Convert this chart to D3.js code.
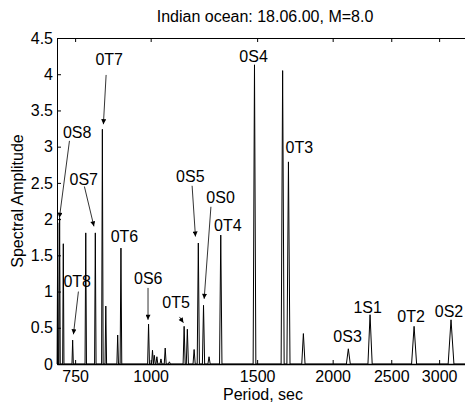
<!DOCTYPE html>
<html>
<head>
<meta charset="utf-8">
<script src="https://cdn.jsdelivr.net/npm/d3@7.9.0/dist/d3.min.js"></script>
<style>
  body { margin: 0; background: #fff; }
  svg { display: block; font-family: "Liberation Sans", Arial, sans-serif; }
</style>
</head>
<body>
<div id="chart"></div>
<script>
// peak periods (sec) and spectral amplitudes
const periods = [702, 707, 717, 743, 781, 810, 832, 843, 882, 893, 992, 1007, 1014, 1024, 1040, 1057, 1074,
  1136, 1150, 1180, 1199, 1223, 1249, 1306, 1485, 1653, 1690, 1789, 2123, 2306, 2727, 3139];
const amps = [1.95, 2.02, 1.66, 0.33, 1.81, 1.81, 3.24, 0.80, 0.40, 1.60, 0.55, 0.19, 0.12, 0.10, 0.07, 0.22, 0.03,
  0.52, 0.48, 0.20, 1.67, 0.81, 0.10, 1.78, 4.13, 4.05, 2.79, 0.42, 0.21, 0.68, 0.52, 0.61];

const xTicks = [750, 1000, 1500, 2000, 2500, 3000];
const yTicks = [0, 0.5, 1, 1.5, 2, 2.5, 3, 3.5, 4, 4.5];

// mode labels: text, label period, label amplitude (baseline)
const modeLabels = [
  ["0S8", 756, 3.12], ["0S7", 775, 2.47], ["0T7", 854, 4.13], ["0T6", 905, 1.68],
  ["0T8", 756, 1.06], ["0S6", 991, 1.10], ["0T5", 1102, 0.77], ["0S5", 1163, 2.51],
  ["0S0", 1305, 2.22], ["0T4", 1342, 1.84], ["0S4", 1480, 4.17], ["0T3", 1762, 2.91],
  ["0S3", 2117, 0.30], ["1S1", 2285, 0.70], ["0T2", 2696, 0.58], ["0S2", 3115, 0.65]
];
// arrows: from [period, amp] to [period, amp]
const arrows = [
  [734, 3.08, 706.5, 2.02], [777, 2.45, 805.7, 1.90], [844, 3.99, 835.3, 3.31],
  [759.5, 1.00, 745.2, 0.41], [990, 1.05, 990, 0.61], [1116, 0.65, 1133, 0.57],
  [1171, 2.46, 1186, 1.76], [1258, 2.17, 1226, 0.90]
];

const width = 465;
const height = 403;
const margin = { top: 38, right: -7, bottom: 39, left: 57 };

const svg = d3.select("#chart").append("svg")
  .attr("width", width)
  .attr("height", height);

const x = d3.scaleLog()
  .domain([700, 3400])
  .range([margin.left, width - margin.right]);

const y = d3.scaleLinear()
  .domain([0, 4.5])
  .range([height - margin.bottom, margin.top]);

// spectrum: each peak as a narrow spike, constant width in frequency
const halfWidth = 3.5e-6; // Hz
const pts = [[700, 0]];
periods.forEach((p, i) => {
  pts.push([1 / (1 / p + halfWidth), 0]);
  pts.push([p, amps[i]]);
  pts.push([1 / (1 / p - halfWidth), 0]);
});
pts.push([3400, 0]);

svg.append("path")
  .datum(pts)
  .attr("fill", "none")
  .attr("stroke", "#000")
  .attr("stroke-width", 1)
  .attr("d", d3.line().x(d => x(d[0])).y(d => y(d[1])));

// axes box with inward ticks
const x0 = x.range()[0];
const y0 = y.range()[0], y1 = y.range()[1];

svg.append("g")
  .attr("transform", `translate(0,${y0})`)
  .call(d3.axisBottom(x).tickValues(xTicks).tickFormat(d3.format("d")).tickSizeInner(-4).tickSizeOuter(0).tickPadding(7))
  .call(g => g.select(".domain").attr("stroke-width", 1.5));

svg.append("g")
  .attr("transform", `translate(0,${y1})`)
  .call(d3.axisTop(x).tickValues(xTicks).tickFormat("").tickSizeInner(-4).tickSizeOuter(0));

svg.append("g")
  .attr("transform", `translate(${x0},0)`)
  .call(d3.axisLeft(y).tickValues(yTicks).tickFormat(d => String(d)).tickSizeInner(-4).tickSizeOuter(0).tickPadding(4));

svg.selectAll(".tick text")
  .attr("font-size", 16)
  .attr("font-family", "Liberation Sans, Arial, sans-serif")
  .attr("fill", "#000");

// arrowhead
svg.append("defs").append("marker")
  .attr("id", "head")
  .attr("viewBox", "0 0 10 10")
  .attr("refX", 10).attr("refY", 5)
  .attr("markerWidth", 8).attr("markerHeight", 5)
  .attr("markerUnits", "userSpaceOnUse")
  .attr("orient", "auto")
  .append("path")
  .attr("d", "M0,0L10,5L0,10Z")
  .attr("fill", "#000");

svg.append("g").selectAll("line")
  .data(arrows)
  .join("line")
  .attr("x1", d => x(d[0])).attr("y1", d => y(d[1]))
  .attr("x2", d => x(d[2])).attr("y2", d => y(d[3]))
  .attr("stroke", "#000")
  .attr("stroke-width", 0.8)
  .attr("marker-end", "url(#head)");

svg.append("g").selectAll("text")
  .data(modeLabels)
  .join("text")
  .attr("x", d => x(d[1]))
  .attr("y", d => y(d[2]))
  .attr("text-anchor", "middle")
  .attr("font-size", 16)
  .text(d => d[0]);

// titles
svg.append("text")
  .attr("x", 265).attr("y", 22)
  .attr("text-anchor", "middle")
  .attr("font-size", 16)
  .text("Indian ocean: 18.06.00, M=8.0");

svg.append("text")
  .attr("x", 263).attr("y", 400)
  .attr("text-anchor", "middle")
  .attr("font-size", 16)
  .text("Period, sec");

svg.append("text")
  .attr("transform", `translate(23,${(y0 + y1) / 2}) rotate(-90)`)
  .attr("text-anchor", "middle")
  .attr("font-size", 16)
  .text("Spectral Amplitude");
</script>
</body>
</html>
